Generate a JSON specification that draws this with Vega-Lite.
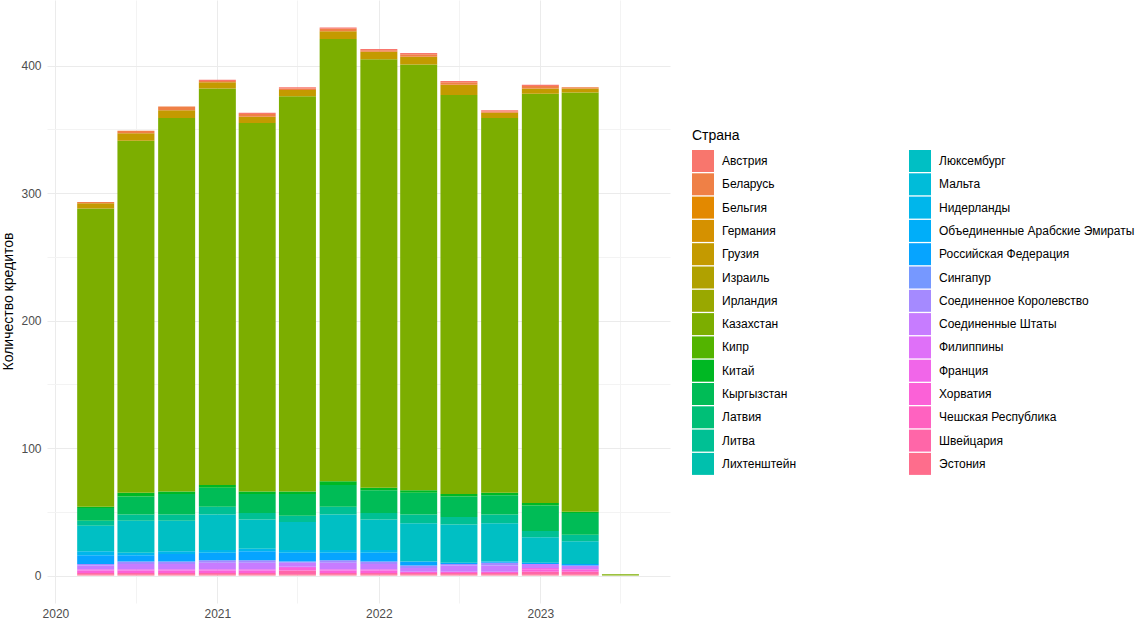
{
  "$schema": "https://vega.github.io/schema/vega-lite/v6.json",
  "autosize": {"type": "none"},
  "padding": {"left": 47, "top": 0, "right": 478, "bottom": 24},
  "width": 623,
  "height": 603,
  "background": "white",
  "config": {
    "view": {"stroke": null},
    "font": "Liberation Sans",
    "axis": {"ticks": false, "tickSize": 0, "domain": false, "labelColor": "#4D4D4D", "labelFontSize": 12, "titleFontWeight": "normal", "titleColor": "#000000", "titleFontSize": 14, "gridWidth": 1}
  },
  "data": {"values": [
    {"date": "2020-04-01", "country": "Эстония", "n": 1},
    {"date": "2020-04-01", "country": "Швейцария", "n": 1},
    {"date": "2020-04-01", "country": "Хорватия", "n": 2},
    {"date": "2020-04-01", "country": "Франция", "n": 1},
    {"date": "2020-04-01", "country": "Соединенные Штаты", "n": 3},
    {"date": "2020-04-01", "country": "Соединенное Королевство", "n": 1},
    {"date": "2020-04-01", "country": "Российская Федерация", "n": 7},
    {"date": "2020-04-01", "country": "Нидерланды", "n": 3},
    {"date": "2020-04-01", "country": "Люксембург", "n": 20},
    {"date": "2020-04-01", "country": "Литва", "n": 4},
    {"date": "2020-04-01", "country": "Кыргызстан", "n": 10},
    {"date": "2020-04-01", "country": "Китай", "n": 1},
    {"date": "2020-04-01", "country": "Казахстан", "n": 234},
    {"date": "2020-04-01", "country": "Грузия", "n": 4},
    {"date": "2020-04-01", "country": "Беларусь", "n": 1},

    {"date": "2020-07-01", "country": "Эстония", "n": 1},
    {"date": "2020-07-01", "country": "Швейцария", "n": 1},
    {"date": "2020-07-01", "country": "Хорватия", "n": 2},
    {"date": "2020-07-01", "country": "Франция", "n": 1},
    {"date": "2020-07-01", "country": "Соединенные Штаты", "n": 4},
    {"date": "2020-07-01", "country": "Соединенное Королевство", "n": 2},
    {"date": "2020-07-01", "country": "Российская Федерация", "n": 5},
    {"date": "2020-07-01", "country": "Нидерланды", "n": 2},
    {"date": "2020-07-01", "country": "Люксембург", "n": 25},
    {"date": "2020-07-01", "country": "Литва", "n": 5},
    {"date": "2020-07-01", "country": "Кыргызстан", "n": 14},
    {"date": "2020-07-01", "country": "Китай", "n": 3},
    {"date": "2020-07-01", "country": "Казахстан", "n": 276},
    {"date": "2020-07-01", "country": "Грузия", "n": 6},
    {"date": "2020-07-01", "country": "Беларусь", "n": 2},

    {"date": "2020-10-01", "country": "Эстония", "n": 1},
    {"date": "2020-10-01", "country": "Швейцария", "n": 1},
    {"date": "2020-10-01", "country": "Хорватия", "n": 2},
    {"date": "2020-10-01", "country": "Франция", "n": 1},
    {"date": "2020-10-01", "country": "Соединенные Штаты", "n": 4},
    {"date": "2020-10-01", "country": "Соединенное Королевство", "n": 2},
    {"date": "2020-10-01", "country": "Российская Федерация", "n": 6},
    {"date": "2020-10-01", "country": "Нидерланды", "n": 2},
    {"date": "2020-10-01", "country": "Люксембург", "n": 24},
    {"date": "2020-10-01", "country": "Литва", "n": 5},
    {"date": "2020-10-01", "country": "Кыргызстан", "n": 16},
    {"date": "2020-10-01", "country": "Китай", "n": 2},
    {"date": "2020-10-01", "country": "Казахстан", "n": 293},
    {"date": "2020-10-01", "country": "Грузия", "n": 6},
    {"date": "2020-10-01", "country": "Беларусь", "n": 3},

    {"date": "2021-01-01", "country": "Эстония", "n": 1},
    {"date": "2021-01-01", "country": "Швейцария", "n": 1},
    {"date": "2021-01-01", "country": "Хорватия", "n": 2},
    {"date": "2021-01-01", "country": "Франция", "n": 1},
    {"date": "2021-01-01", "country": "Соединенные Штаты", "n": 5},
    {"date": "2021-01-01", "country": "Соединенное Королевство", "n": 2},
    {"date": "2021-01-01", "country": "Российская Федерация", "n": 6},
    {"date": "2021-01-01", "country": "Нидерланды", "n": 2},
    {"date": "2021-01-01", "country": "Люксембург", "n": 28},
    {"date": "2021-01-01", "country": "Литва", "n": 6},
    {"date": "2021-01-01", "country": "Кыргызстан", "n": 15},
    {"date": "2021-01-01", "country": "Китай", "n": 2},
    {"date": "2021-01-01", "country": "Казахстан", "n": 311},
    {"date": "2021-01-01", "country": "Грузия", "n": 5},
    {"date": "2021-01-01", "country": "Беларусь", "n": 1},
    {"date": "2021-01-01", "country": "Австрия", "n": 1},

    {"date": "2021-04-01", "country": "Эстония", "n": 1},
    {"date": "2021-04-01", "country": "Швейцария", "n": 1},
    {"date": "2021-04-01", "country": "Хорватия", "n": 2},
    {"date": "2021-04-01", "country": "Франция", "n": 1},
    {"date": "2021-04-01", "country": "Соединенные Штаты", "n": 5},
    {"date": "2021-04-01", "country": "Соединенное Королевство", "n": 2},
    {"date": "2021-04-01", "country": "Российская Федерация", "n": 7},
    {"date": "2021-04-01", "country": "Нидерланды", "n": 2},
    {"date": "2021-04-01", "country": "Люксембург", "n": 23},
    {"date": "2021-04-01", "country": "Литва", "n": 5},
    {"date": "2021-04-01", "country": "Кыргызстан", "n": 15},
    {"date": "2021-04-01", "country": "Китай", "n": 2},
    {"date": "2021-04-01", "country": "Казахстан", "n": 289},
    {"date": "2021-04-01", "country": "Грузия", "n": 5},
    {"date": "2021-04-01", "country": "Беларусь", "n": 2},
    {"date": "2021-04-01", "country": "Австрия", "n": 1},

    {"date": "2021-07-01", "country": "Эстония", "n": 1},
    {"date": "2021-07-01", "country": "Швейцария", "n": 3},
    {"date": "2021-07-01", "country": "Хорватия", "n": 2},
    {"date": "2021-07-01", "country": "Франция", "n": 1},
    {"date": "2021-07-01", "country": "Соединенные Штаты", "n": 3},
    {"date": "2021-07-01", "country": "Соединенное Королевство", "n": 1},
    {"date": "2021-07-01", "country": "Российская Федерация", "n": 7},
    {"date": "2021-07-01", "country": "Нидерланды", "n": 2},
    {"date": "2021-07-01", "country": "Люксембург", "n": 22},
    {"date": "2021-07-01", "country": "Литва", "n": 5},
    {"date": "2021-07-01", "country": "Кыргызстан", "n": 17},
    {"date": "2021-07-01", "country": "Китай", "n": 2},
    {"date": "2021-07-01", "country": "Казахстан", "n": 310},
    {"date": "2021-07-01", "country": "Грузия", "n": 5},
    {"date": "2021-07-01", "country": "Беларусь", "n": 1},
    {"date": "2021-07-01", "country": "Австрия", "n": 1},

    {"date": "2021-10-01", "country": "Эстония", "n": 1},
    {"date": "2021-10-01", "country": "Швейцария", "n": 1},
    {"date": "2021-10-01", "country": "Хорватия", "n": 2},
    {"date": "2021-10-01", "country": "Франция", "n": 1},
    {"date": "2021-10-01", "country": "Соединенные Штаты", "n": 5},
    {"date": "2021-10-01", "country": "Соединенное Королевство", "n": 2},
    {"date": "2021-10-01", "country": "Российская Федерация", "n": 6},
    {"date": "2021-10-01", "country": "Нидерланды", "n": 2},
    {"date": "2021-10-01", "country": "Люксембург", "n": 28},
    {"date": "2021-10-01", "country": "Литва", "n": 6},
    {"date": "2021-10-01", "country": "Кыргызстан", "n": 17},
    {"date": "2021-10-01", "country": "Китай", "n": 3},
    {"date": "2021-10-01", "country": "Казахстан", "n": 347},
    {"date": "2021-10-01", "country": "Грузия", "n": 6},
    {"date": "2021-10-01", "country": "Беларусь", "n": 2},
    {"date": "2021-10-01", "country": "Австрия", "n": 1},

    {"date": "2022-01-01", "country": "Эстония", "n": 1},
    {"date": "2022-01-01", "country": "Швейцария", "n": 1},
    {"date": "2022-01-01", "country": "Хорватия", "n": 2},
    {"date": "2022-01-01", "country": "Франция", "n": 1},
    {"date": "2022-01-01", "country": "Соединенные Штаты", "n": 4},
    {"date": "2022-01-01", "country": "Соединенное Королевство", "n": 2},
    {"date": "2022-01-01", "country": "Российская Федерация", "n": 7},
    {"date": "2022-01-01", "country": "Нидерланды", "n": 2},
    {"date": "2022-01-01", "country": "Люксембург", "n": 24},
    {"date": "2022-01-01", "country": "Литва", "n": 5},
    {"date": "2022-01-01", "country": "Кыргызстан", "n": 18},
    {"date": "2022-01-01", "country": "Китай", "n": 2},
    {"date": "2022-01-01", "country": "Казахстан", "n": 336},
    {"date": "2022-01-01", "country": "Грузия", "n": 6},
    {"date": "2022-01-01", "country": "Беларусь", "n": 1},
    {"date": "2022-01-01", "country": "Австрия", "n": 1},

    {"date": "2022-04-01", "country": "Эстония", "n": 1},
    {"date": "2022-04-01", "country": "Швейцария", "n": 1},
    {"date": "2022-04-01", "country": "Хорватия", "n": 1},
    {"date": "2022-04-01", "country": "Соединенные Штаты", "n": 3},
    {"date": "2022-04-01", "country": "Соединенное Королевство", "n": 2},
    {"date": "2022-04-01", "country": "Российская Федерация", "n": 3},
    {"date": "2022-04-01", "country": "Люксембург", "n": 30},
    {"date": "2022-04-01", "country": "Литва", "n": 7},
    {"date": "2022-04-01", "country": "Кыргызстан", "n": 17},
    {"date": "2022-04-01", "country": "Китай", "n": 2},
    {"date": "2022-04-01", "country": "Казахстан", "n": 334},
    {"date": "2022-04-01", "country": "Грузия", "n": 6},
    {"date": "2022-04-01", "country": "Беларусь", "n": 2},
    {"date": "2022-04-01", "country": "Австрия", "n": 1},

    {"date": "2022-07-01", "country": "Эстония", "n": 1},
    {"date": "2022-07-01", "country": "Швейцария", "n": 1},
    {"date": "2022-07-01", "country": "Хорватия", "n": 1},
    {"date": "2022-07-01", "country": "Соединенные Штаты", "n": 5},
    {"date": "2022-07-01", "country": "Соединенное Королевство", "n": 1},
    {"date": "2022-07-01", "country": "Российская Федерация", "n": 1},
    {"date": "2022-07-01", "country": "Люксембург", "n": 30},
    {"date": "2022-07-01", "country": "Литва", "n": 6},
    {"date": "2022-07-01", "country": "Кыргызстан", "n": 16},
    {"date": "2022-07-01", "country": "Китай", "n": 2},
    {"date": "2022-07-01", "country": "Казахстан", "n": 313},
    {"date": "2022-07-01", "country": "Грузия", "n": 8},
    {"date": "2022-07-01", "country": "Беларусь", "n": 2},
    {"date": "2022-07-01", "country": "Австрия", "n": 1},

    {"date": "2022-10-01", "country": "Эстония", "n": 1},
    {"date": "2022-10-01", "country": "Швейцария", "n": 1},
    {"date": "2022-10-01", "country": "Хорватия", "n": 1},
    {"date": "2022-10-01", "country": "Соединенные Штаты", "n": 5},
    {"date": "2022-10-01", "country": "Соединенное Королевство", "n": 2},
    {"date": "2022-10-01", "country": "Российская Федерация", "n": 1},
    {"date": "2022-10-01", "country": "Люксембург", "n": 30},
    {"date": "2022-10-01", "country": "Литва", "n": 7},
    {"date": "2022-10-01", "country": "Кыргызстан", "n": 15},
    {"date": "2022-10-01", "country": "Китай", "n": 2},
    {"date": "2022-10-01", "country": "Казахстан", "n": 294},
    {"date": "2022-10-01", "country": "Грузия", "n": 4},
    {"date": "2022-10-01", "country": "Беларусь", "n": 1},
    {"date": "2022-10-01", "country": "Австрия", "n": 1},

    {"date": "2023-01-01", "country": "Эстония", "n": 1},
    {"date": "2023-01-01", "country": "Швейцария", "n": 2},
    {"date": "2023-01-01", "country": "Хорватия", "n": 2},
    {"date": "2023-01-01", "country": "Франция", "n": 1},
    {"date": "2023-01-01", "country": "Соединенные Штаты", "n": 3},
    {"date": "2023-01-01", "country": "Российская Федерация", "n": 1},
    {"date": "2023-01-01", "country": "Люксембург", "n": 20},
    {"date": "2023-01-01", "country": "Литва", "n": 5},
    {"date": "2023-01-01", "country": "Кыргызстан", "n": 20},
    {"date": "2023-01-01", "country": "Китай", "n": 2},
    {"date": "2023-01-01", "country": "Казахстан", "n": 321},
    {"date": "2023-01-01", "country": "Грузия", "n": 4},
    {"date": "2023-01-01", "country": "Беларусь", "n": 2},
    {"date": "2023-01-01", "country": "Австрия", "n": 1},

    {"date": "2023-04-01", "country": "Эстония", "n": 1},
    {"date": "2023-04-01", "country": "Швейцария", "n": 2},
    {"date": "2023-04-01", "country": "Хорватия", "n": 2},
    {"date": "2023-04-01", "country": "Соединенные Штаты", "n": 3},
    {"date": "2023-04-01", "country": "Российская Федерация", "n": 1},
    {"date": "2023-04-01", "country": "Люксембург", "n": 18},
    {"date": "2023-04-01", "country": "Литва", "n": 5},
    {"date": "2023-04-01", "country": "Кыргызстан", "n": 17},
    {"date": "2023-04-01", "country": "Китай", "n": 1},
    {"date": "2023-04-01", "country": "Казахстан", "n": 329},
    {"date": "2023-04-01", "country": "Грузия", "n": 3},
    {"date": "2023-04-01", "country": "Беларусь", "n": 1},

    {"date": "2023-07-01", "country": "Казахстан", "n": 1}
  ]},
  "mark": {"type": "bar", "width": 37},
  "encoding": {
    "x": {
      "field": "date", "type": "temporal",
      "scale": {"domain": [{"year": 2019, "month": 12, "date": 13}, {"year": 2023, "month": 10, "date": 21}], "nice": false, "padding": 0},
      "axis": {
        "title": null,
        "values": [
          {"year": 2020, "month": 1, "date": 1}, {"year": 2020, "month": 7, "date": 1},
          {"year": 2021, "month": 1, "date": 1}, {"year": 2021, "month": 7, "date": 1},
          {"year": 2022, "month": 1, "date": 1}, {"year": 2022, "month": 7, "date": 1},
          {"year": 2023, "month": 1, "date": 1}, {"year": 2023, "month": 7, "date": 1}
        ],
        "labelExpr": "month(datum.value) === 0 ? timeFormat(datum.value, '%Y') : ''",
        "labelPadding": 5,
        "gridColor": {"condition": {"test": "month(datum.value) !== 0", "value": "#F3F3F3"}, "value": "#EBEBEB"}
      }
    },
    "y": {
      "field": "n", "type": "quantitative", "aggregate": "sum", "stack": "zero",
      "scale": {"domain": [-21.5, 451.5], "nice": false, "zero": false, "padding": 0},
      "axis": {
        "title": "Количество кредитов",
        "values": [0, 50, 100, 150, 200, 250, 300, 350, 400],
        "labelExpr": "datum.value % 100 === 0 ? datum.label : ''",
        "labelPadding": 6,
        "titleX": -39,
        "titleY": 301,
        "titleAlign": "center",
        "titleBaseline": "middle",
        "gridColor": {"condition": {"test": "datum.value % 100 !== 0", "value": "#F3F3F3"}, "value": "#EBEBEB"}
      }
    },
    "order": {"field": "country", "sort": "descending"},
    "color": {
      "field": "country", "type": "nominal",
      "scale": {
        "domain": ["Австрия", "Беларусь", "Бельгия", "Германия", "Грузия", "Израиль", "Ирландия", "Казахстан", "Кипр", "Китай", "Кыргызстан", "Латвия", "Литва", "Лихтенштейн", "Люксембург", "Мальта", "Нидерланды", "Объединенные Арабские Эмираты", "Российская Федерация", "Сингапур", "Соединенное Королевство", "Соединенные Штаты", "Филиппины", "Франция", "Хорватия", "Чешская Республика", "Швейцария", "Эстония"],
        "range": ["#F8766D", "#EF8046", "#E38900", "#D59100", "#C49A00", "#B0A100", "#99A800", "#7CAE00", "#53B400", "#00B823", "#00BC56", "#00BF77", "#00C094", "#00C0AD", "#00BFC4", "#00BCD9", "#00B6EB", "#00AEF9", "#06A4FF", "#7698FF", "#A58AFF", "#C77CFF", "#DF70F8", "#F166E9", "#FB61D7", "#FF62C0", "#FF66A8", "#FE6D8C"]
      },
      "legend": {
        "title": "Страна",
        "orient": "none",
        "legendX": 645,
        "legendY": 129,
        "columns": 2,
        "columnPadding": 112,
        "rowPadding": 1.3,
        "symbolType": "square",
        "symbolSize": 484,
        "symbolStrokeWidth": 0,
        "symbolOpacity": 1,
        "labelFontSize": 12,
        "labelColor": "#000000",
        "labelOffset": 8,
        "labelLimit": 300,
        "titleFontSize": 14,
        "titleFontWeight": "normal",
        "titleColor": "#000000",
        "titlePadding": 7
      }
    }
  }
}
